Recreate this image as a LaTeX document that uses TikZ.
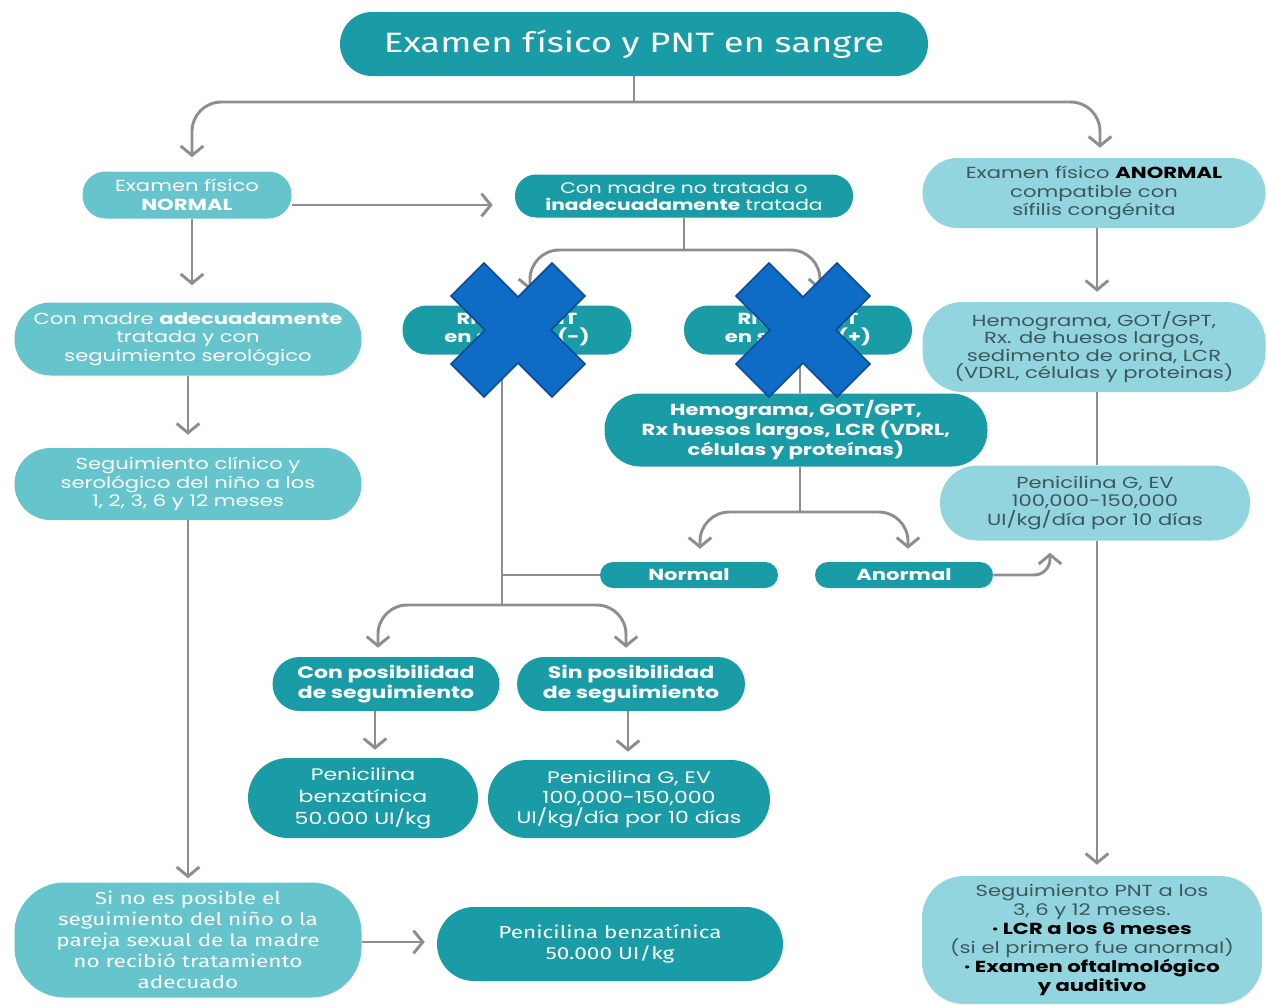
\documentclass[tikz,border=0pt]{standalone}
\usepackage{fontspec}
\setmainfont[FakeStretch=1.32]{Poppins}
\newfontfamily\condf[FakeStretch=1.3]{Fira Sans}
\usetikzlibrary{arrows.meta,calc}
\definecolor{dk}{HTML}{1A9CA7}
\definecolor{lt}{HTML}{66C4CD}
\definecolor{xl}{HTML}{93D5DE}
\definecolor{ln}{HTML}{8E8E8E}
\definecolor{tx}{HTML}{3B585E}
\definecolor{crossf}{HTML}{0F6CC6}
\definecolor{crossd}{HTML}{0B4A95}
\newdimen\px \px=0.75pt
\newcommand\bk[1]{\textbf{\color{black}#1}}
\begin{document}
\begin{tikzpicture}[x=0.75pt,y=-0.75pt,
  box/.style={rectangle, inner sep=0pt, align=center, text=white, font=\fontsize{12}{13.9}\selectfont},
  dkbox/.style={box, fill=dk},
  ltbox/.style={box, fill=lt},
  xlbox/.style={box, fill=xl, text=tx},
  conn/.style={draw=ln, line width=2.2pt, rounded corners=22pt},
  arr/.style={conn, -{Straight Barb[length=7pt,width=17pt]}},
  xmark/.pic={\draw[fill=crossf,draw=crossd,line width=1.3pt]
    (-67,-34) -- (-34,-67) -- (0,-33) -- (34,-67) -- (67,-34) -- (33,0) --
    (67,34) -- (34,67) -- (0,33) -- (-34,67) -- (-67,34) -- (-33,0) -- cycle;}
]
\fill[white] (0,0) rectangle (1267,1004);
\useasboundingbox (0,0) rectangle (1267,1004);

% nodes
\node[dkbox, minimum width=588\px, minimum height=64\px, rounded corners=32\px,
  font=\condf\fontsize{21}{24}\selectfont] (title) at (634,44) {Examen físico y PNT en sangre};
\node[ltbox, minimum width=209\px, minimum height=47\px, rounded corners=23\px] (normal) at (187,195)
  {Examen físico\\\textbf{NORMAL}};
\node[dkbox, minimum width=338\px, minimum height=43\px, rounded corners=21\px,
  font=\fontsize{11.5}{12.8}\selectfont] (nomadre) at (684,196)
  {Con madre no tratada o\\\textbf{inadecuadamente} tratada};
\node[xlbox, minimum width=343\px, minimum height=70\px, rounded corners=35\px] (anorm) at (1094,193)
  {Examen físico \bk{ANORMAL}\\compatible con\\sífilis congénita};
\node[ltbox, minimum width=347\px, minimum height=73\px, rounded corners=36\px] (adec) at (188,339)
  {Con madre \textbf{adecuadamente}\\tratada y con\\seguimiento serológico};
\node[dkbox, minimum width=229\px, minimum height=49\px, rounded corners=24\px,
  font=\bfseries\fontsize{12}{13.9}\selectfont] (rnneg) at (517,330) {RN con PNT\\en sangre (-)};
\node[dkbox, minimum width=228\px, minimum height=49\px, rounded corners=24\px,
  font=\bfseries\fontsize{12}{13.9}\selectfont] (rnpos) at (798,330) {RN con PNT\\en sangre (+)};
\node[xlbox, minimum width=343\px, minimum height=90\px, rounded corners=40\px,
  font=\fontsize{12}{13.2}\selectfont] (hemor) at (1094,347)
  {Hemograma, GOT/GPT,\\Rx. de huesos largos,\\sedimento de orina, LCR\\(VDRL, células y proteinas)};
\node[ltbox, minimum width=347\px, minimum height=72\px, rounded corners=36\px] (segcl) at (188,484)
  {Seguimiento clínico y\\serológico del niño a los\\1, 2, 3, 6 y 12 meses};
\node[dkbox, minimum width=383\px, minimum height=73\px, rounded corners=36\px,
  font=\bfseries\fontsize{12}{13.9}\selectfont] (hemomid) at (796,430)
  {Hemograma, GOT/GPT,\\Rx huesos largos, LCR (VDRL,\\células y proteínas)};
\node[xlbox, minimum width=310\px, minimum height=75\px, rounded corners=37\px] (penr) at (1095,503)
  {Penicilina G, EV\\100,000-150,000\\UI/kg/día por 10 días};
\node[dkbox, minimum width=178\px, minimum height=26\px, rounded corners=13\px,
  font=\bfseries\fontsize{12}{13.9}\selectfont] (normalb) at (689,575) {Normal};
\node[dkbox, minimum width=178\px, minimum height=26\px, rounded corners=13\px,
  font=\bfseries\fontsize{12}{13.9}\selectfont] (anormalb) at (904,575) {Anormal};
\node[dkbox, minimum width=227\px, minimum height=54\px, rounded corners=27\px,
  font=\bfseries\fontsize{12.5}{15}\selectfont] (con) at (386,684) {Con posibilidad\\de seguimiento};
\node[dkbox, minimum width=228\px, minimum height=54\px, rounded corners=27\px,
  font=\bfseries\fontsize{12.5}{15}\selectfont] (sin) at (631,684) {Sin posibilidad\\de seguimiento};
\node[dkbox, minimum width=230\px, minimum height=80\px, rounded corners=40\px,
  font=\fontsize{12.5}{16.5}\selectfont] (penb) at (363,798) {Penicilina\\benzatínica\\50.000 UI/kg};
\node[dkbox, minimum width=282\px, minimum height=78\px, rounded corners=39\px,
  font=\fontsize{12.5}{15}\selectfont] (peng) at (629,799) {Penicilina G, EV\\100,000-150,000\\UI/kg/día por 10 días};
\node[ltbox, minimum width=347\px, minimum height=115\px, rounded corners=50\px,
  font=\condf\fontsize{13}{15.8}\selectfont] (sino) at (188,940)
  {Si no es posible el\\seguimiento del niño o la\\pareja sexual de la madre\\no recibió tratamiento\\adecuado};
\node[dkbox, minimum width=346\px, minimum height=74\px, rounded corners=37\px,
  font=\condf\fontsize{13}{16}\selectfont] (penb2) at (610,944) {Penicilina benzatínica\\50.000 UI/kg};
\node[xlbox, minimum width=340\px, minimum height=128\px, rounded corners=42\px,
  font=\fontsize{12}{14.2}\selectfont] (segpnt) at (1092,940)
  {Seguimiento PNT a los\\3, 6 y 12 meses.\\\bk{· LCR a los 6 meses}\\(si el primero fue anormal)\\\bk{· Examen oftalmológico}\\\bk{y auditivo}};

% junctions
\coordinate (tj) at (634,102);
\coordinate (mj) at (684,250);
\coordinate (lj) at (502,605);
\coordinate (hj) at (800,512);

% connectors
\draw[conn] (title.south) -- (tj);
\draw[arr, shorten >=14\px] (tj) -| ($(normal.north)+(5,0)$);
\draw[arr, shorten >=10\px] (tj) -| ($(anorm.north)+(6,0)$);
\draw[arr, shorten >=22\px] ($(normal.east)+(0,10)$) -- ($(nomadre.west)+(0,9)$);
\draw[arr, shorten >=17\px] ($(normal.south)+(5,0)$) -- ($(adec.north)+(4,0)$);
\draw[arr, shorten >=13\px] (adec.south) -- (segcl.north);
\draw[arr, shorten >=4\px] (segcl.south) -- (sino.north);
\draw[arr, shorten >=12\px] ($(sino.east)+(0,2)$) -- ($(penb2.west)+(0,-2)$);

\draw[conn] (nomadre.south) -- (mj);
\draw[arr, shorten >=15\px] (mj) -| ($(rnneg.north)+(13,0)$);
\draw[arr, shorten >=15\px] (mj) -| ($(rnpos.north)+(22,0)$);

\draw[conn] (rnneg.south -| lj) -- (lj);
\draw[conn] (normalb.west -| lj) -- (normalb.west);
\draw[arr, shorten >=9\px] (lj) -| ($(con.north)+(-8,0)$);
\draw[arr, shorten >=9\px] (lj) -| ($(sin.north)+(-5,0)$);
\draw[arr, shorten >=8\px] ($(con.south)+(-11,0)$) -- ($(penb.north)+(12,0)$);
\draw[arr, shorten >=8\px] ($(sin.south)+(-3,0)$) -- ($(peng.north)+(-1,0)$);

\draw[conn] ($(rnpos.south)+(2,0)$) -- ($(hemomid.north)+(4,0)$);
\draw[conn] ($(hemomid.south)+(4,0)$) -- (hj);
\draw[arr, shorten >=13\px] (hj) -| ($(normalb.north)+(11,0)$);
\draw[arr, shorten >=13\px] (hj) -| ($(anormalb.north)+(4,0)$);
\draw[arr, rounded corners=12pt, shorten >=12\px] (anormalb.east) -| ($(penr.south)+(-45,0)$);

\draw[arr, shorten >=10\px] ($(anorm.south)+(3,0)$) -- ($(hemor.north)+(3,0)$);
\draw[conn] ($(hemor.south)+(3,0)$) -- ($(penr.north)+(2,0)$);
\draw[arr, shorten >=11\px] ($(penr.south)+(2,0)$) -- ($(segpnt.north)+(5,0)$);

% crosses
\pic at (518,330) {xmark};
\pic at (803,330) {xmark};
\end{tikzpicture}
\end{document}
